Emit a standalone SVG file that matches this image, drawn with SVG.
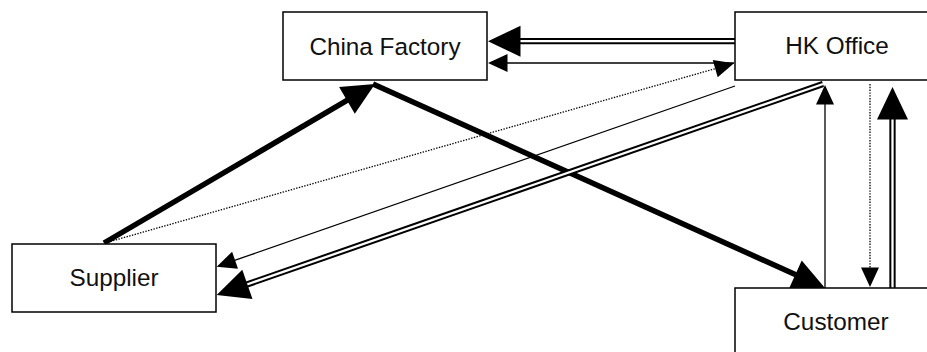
<svg xmlns="http://www.w3.org/2000/svg" width="927" height="352" viewBox="0 0 927 352">
  <style>
    .box { fill: #fff; stroke: #000; stroke-width: 1.5; }
    .label { font-family: "Liberation Sans", Arial, sans-serif; font-size: 24.3px; fill: #111; text-anchor: middle; }
    .thin { fill: none; stroke: #000; stroke-width: 1.3; }
    .dotted { fill: none; stroke: #000; stroke-width: 1.3; stroke-dasharray: 1.4 1.4; }
    .thick { fill: none; stroke: #000; stroke-width: 5.5; }
    .dbl-outer { fill: none; stroke: #000; stroke-width: 6.3; }
    .dbl-inner { fill: none; stroke: #fff; stroke-width: 2.3; }
  </style>
  <defs>
    <!-- arrowheads anchored at their base; the path ends where the head begins -->
    <marker id="heavy" markerUnits="userSpaceOnUse" orient="auto" refX="0" refY="0"
            markerWidth="34" markerHeight="34" overflow="visible">
      <path d="M-0.5,-15.5 L32,0 L-0.5,15.5 Z" fill="#000"/>
    </marker>
    <marker id="light" markerUnits="userSpaceOnUse" orient="auto" refX="0" refY="0"
            markerWidth="20" markerHeight="20" overflow="visible">
      <path d="M-0.5,-9 L19,0 L-0.5,9 Z" fill="#000"/>
    </marker>
  </defs>

  <rect width="927" height="352" fill="#fff"/>

  <g id="connectors">
    <!-- HK Office to China Factory, double line -->
    <path class="dbl-outer" d="M735,41.2 L520,41.2"/>
    <path class="dbl-inner" d="M735,41.2 L520,41.2" marker-end="url(#heavy)"/>
    <!-- HK Office to China Factory, thin -->
    <path class="thin" d="M734,63 L507,63" marker-end="url(#light)"/>
    <!-- Supplier to China Factory, heavy -->
    <path class="thick" d="M104,243 L347.4,100.2" marker-end="url(#heavy)"/>
    <!-- China Factory to Customer, heavy -->
    <path class="thick" d="M373,84 L795.8,274.8" marker-end="url(#heavy)"/>
    <!-- Supplier to HK Office, dotted -->
    <path class="dotted" d="M105,243 L715.7,68.5" marker-end="url(#light)"/>
    <!-- HK Office to Supplier, thin -->
    <path class="thin" d="M735,86 L234.6,260.4" marker-end="url(#light)"/>
    <!-- HK Office to Supplier, double line -->
    <path class="dbl-outer" d="M823,84 L246.9,284.5"/>
    <path class="dbl-inner" d="M823,84 L246.9,284.5" marker-end="url(#heavy)"/>
    <!-- Customer to HK Office, thin -->
    <path class="thin" d="M825,288 L825,104" marker-end="url(#light)"/>
    <!-- HK Office to Customer, dotted -->
    <path class="dotted" d="M870,84 L870,268" marker-end="url(#light)"/>
    <!-- Customer to HK Office, double line -->
    <path class="dbl-outer" d="M892.5,288 L892.5,119"/>
    <path class="dbl-inner" d="M892.5,288 L892.5,119" marker-end="url(#heavy)"/>
  </g>

  <g id="china-factory">
    <rect class="box" x="283" y="12" width="204" height="68"/>
    <text class="label" x="385" y="55">China Factory</text>
  </g>
  <g id="hk-office">
    <rect class="box" x="735" y="12" width="204" height="68"/>
    <text class="label" x="837" y="54">HK Office</text>
  </g>
  <g id="supplier">
    <rect class="box" x="12" y="244" width="204" height="68"/>
    <text class="label" x="114" y="286">Supplier</text>
  </g>
  <g id="customer">
    <rect class="box" x="735" y="288" width="204" height="68"/>
    <text class="label" x="836" y="330">Customer</text>
  </g>
</svg>
